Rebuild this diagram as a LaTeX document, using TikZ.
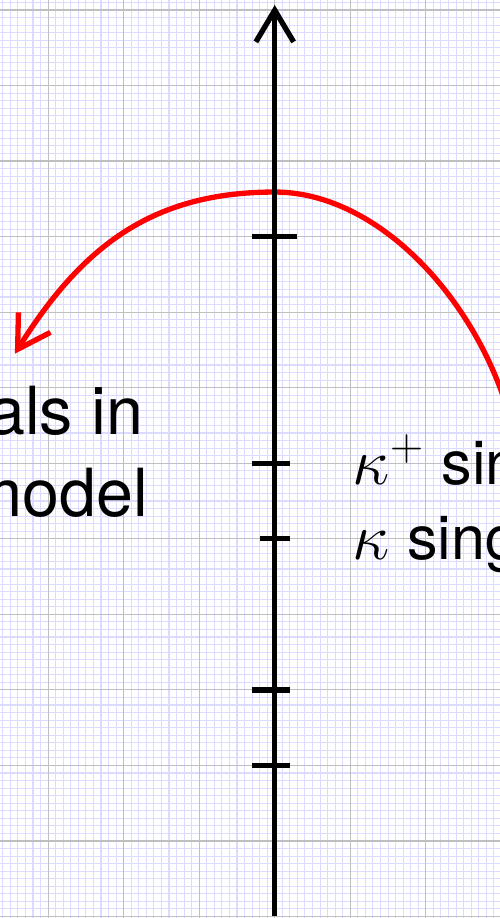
\documentclass[tikz,border=0pt]{standalone}
\usepackage{fontspec}
\newfontfamily\hv{TeX Gyre Heros}
\usetikzlibrary{arrows.meta}
\begin{document}
\begin{tikzpicture}[
  axisline/.style={line width=2pt},
  tickline/.style={line width=2pt},
  barb/.style={-{Straight Barb[length=0.42cm,width=0.5cm]}},
  redarrow/.style={red, line width=2pt},
  lefttext/.style={font=\hv\fontsize{25}{30}\selectfont, inner sep=0pt, anchor=base east},
  righttext/.style={font=\hv\fontsize{23}{28}\selectfont, inner sep=0pt, anchor=base west}]
\useasboundingbox (-3.637,-6.02) rectangle (2.981,6.132);
\clip (-3.637,-6.02) rectangle (2.981,6.132);
\fill[white] (-3.637,-6.02) rectangle (2.981,6.132);
\draw[blue!14, line width=0.4pt, step=0.1] (-3.7,-6.1) grid (3.1,6.2);
\draw[gray!50, line width=0.45pt, step=1] (-3.7,-6.1) grid (3.1,6.2);
% red curve
\coordinate (rs) at (3.06,0.78);
\coordinate (pk) at (0,3.59);
\coordinate (re) at (-3.44,1.45);
\draw[redarrow, barb] (rs) .. controls (2.566,2.302) and (1.3,3.59) .. (pk)
  .. controls (-1.6,3.59) and (-2.539,2.892) .. (re);
% axis
\coordinate (bot) at (0,-6);
\coordinate (top) at (0,6.066);
\draw[axisline, barb] (bot) -- (top);
% ticks
\draw[tickline] (-0.3,3) -- (0.3,3);
\draw[tickline] (-0.3,0) -- (0.2,0);
\draw[tickline] (-0.2,-1) -- (0.2,-1);
\draw[tickline] (-0.3,-3) -- (0.2,-3);
\draw[tickline] (-0.3,-4) -- (0.2,-4);
% labels
\node[lefttext] (l1) at (-1.735,0.375) {als in};
\node[lefttext] (l2) at (-1.673,-0.707) {model};
\node[righttext] (r1) at (1.028,-0.287) {$\kappa^+$ sin};
\node[righttext] (r2) at (1.028,-1.28) {$\kappa$ sing};
\end{tikzpicture}
\end{document}
